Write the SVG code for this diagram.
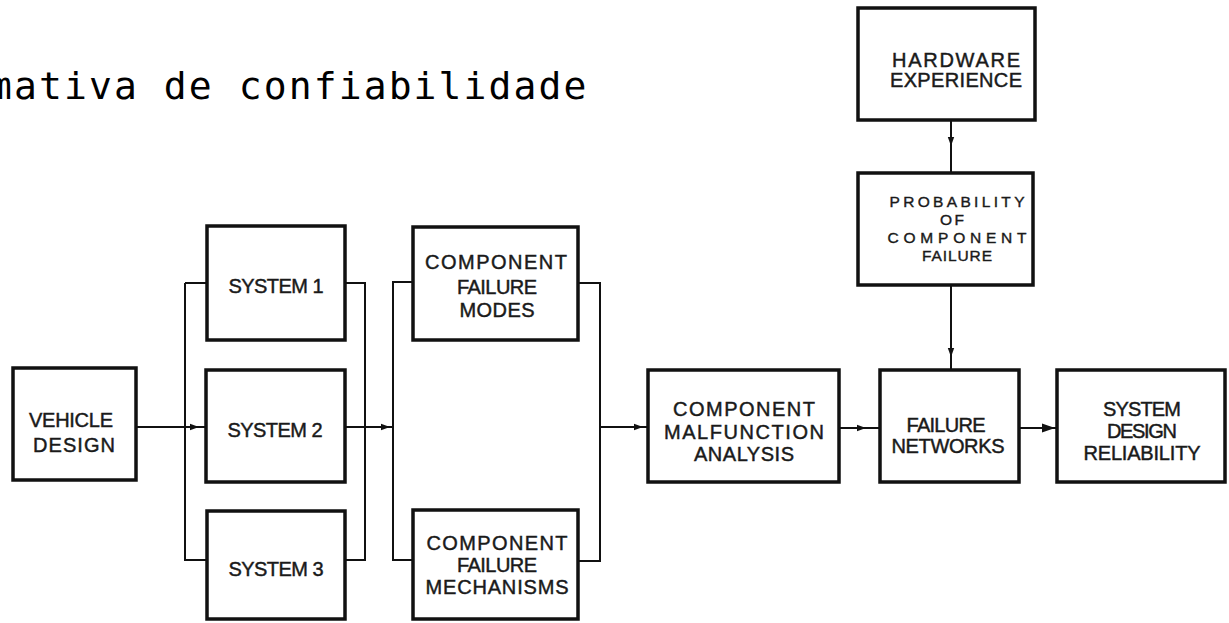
<svg xmlns="http://www.w3.org/2000/svg" width="1229" height="623" viewBox="0 0 1229 623">
<style>
.box{fill:#fff;stroke:#111;stroke-width:3.5}
.con{fill:none;stroke:#111;stroke-width:2}
.lbl{font-family:"Liberation Sans",Arial,sans-serif;font-size:20px;fill:#1a1a1a;stroke:#1a1a1a;stroke-width:0.45;text-anchor:middle}
.sm{font-size:15.5px;stroke-width:0.4}
.title{font-family:"DejaVu Sans Mono","Liberation Mono",monospace;font-size:38px;fill:#000;letter-spacing:2.1px}
</style>
<defs>
<marker id="ah" markerUnits="userSpaceOnUse" markerWidth="10" markerHeight="8" refX="9" refY="4" orient="auto">
<path d="M0,0.8 L9,4 L0,7.2 Z" fill="#111"/>
</marker>
<marker id="ahb" markerUnits="userSpaceOnUse" markerWidth="14" markerHeight="10" refX="13" refY="5" orient="auto">
<path d="M0,0.5 L13,5 L0,9.5 Z" fill="#111"/>
</marker>
</defs>
<rect width="1229" height="623" fill="#fff"/>
<text class="title" x="-11" y="99">mativa de confiabilidade</text>

<g id="connectors">
<path class="con" d="M185,283 H207 M185,283 V560 H207"/>
<path class="con" d="M137,427 L199,427 L207,427" marker-mid="url(#ah)"/>
<path class="con" d="M345,283 H365 V560 H345"/>
<path class="con" d="M345,427 L390,427 L393,427" marker-mid="url(#ah)"/>
<path class="con" d="M413,282 H393 V560 H413"/>
<path class="con" d="M578,283 H600 V561 H578"/>
<path class="con" d="M600,427 L643,427 L648,427" marker-mid="url(#ah)"/>
<path class="con" d="M839,428 L866,428 L880,428" marker-mid="url(#ah)"/>
<path class="con" d="M1019,428 L1055,428 L1057,428" marker-mid="url(#ahb)"/>
<path class="con" d="M951,120 L951,146 L951,173" marker-mid="url(#ah)"/>
<path class="con" d="M951,285 L951,357 L951,370" marker-mid="url(#ah)"/>
</g>

<g id="vehicle-design">
<rect class="box" x="13" y="368" width="123" height="112"/>
<text class="lbl" x="71" y="427" textLength="84">VEHICLE</text>
<text class="lbl" x="74" y="452" textLength="82">DESIGN</text>
</g>
<g id="system-1">
<rect class="box" x="207" y="226" width="138" height="114"/>
<text class="lbl" x="276" y="293" textLength="95">SYSTEM 1</text>
</g>
<g id="system-2">
<rect class="box" x="206" y="370" width="139" height="112"/>
<text class="lbl" x="275" y="437" textLength="95">SYSTEM 2</text>
</g>
<g id="system-3">
<rect class="box" x="207" y="511" width="138" height="108"/>
<text class="lbl" x="276" y="576" textLength="95">SYSTEM 3</text>
</g>
<g id="component-failure-modes">
<rect class="box" x="413" y="227" width="165" height="113"/>
<text class="lbl" x="496" y="269" textLength="142">COMPONENT</text>
<text class="lbl" x="497" y="294" textLength="80">FAILURE</text>
<text class="lbl" x="497" y="317" textLength="75">MODES</text>
</g>
<g id="component-failure-mechanisms">
<rect class="box" x="413" y="510" width="165" height="109"/>
<text class="lbl" x="497" y="550" textLength="141">COMPONENT</text>
<text class="lbl" x="497" y="572" textLength="80">FAILURE</text>
<text class="lbl" x="497" y="594" textLength="143">MECHANISMS</text>
</g>
<g id="component-malfunction-analysis">
<rect class="box" x="648" y="370" width="191" height="112"/>
<text class="lbl" x="744" y="416" textLength="142">COMPONENT</text>
<text class="lbl" x="744" y="439" textLength="160">MALFUNCTION</text>
<text class="lbl" x="744" y="461" textLength="100">ANALYSIS</text>
</g>
<g id="failure-networks">
<rect class="box" x="880" y="370" width="139" height="112"/>
<text class="lbl" x="946" y="432" textLength="79">FAILURE</text>
<text class="lbl" x="948" y="453" textLength="113">NETWORKS</text>
</g>
<g id="system-design-reliability">
<rect class="box" x="1057" y="370" width="168" height="112"/>
<text class="lbl" x="1142" y="416" textLength="78">SYSTEM</text>
<text class="lbl" x="1142" y="438" textLength="70">DESIGN</text>
<text class="lbl" x="1142" y="460" textLength="117">RELIABILITY</text>
</g>
<g id="hardware-experience">
<rect class="box" x="858" y="8" width="177" height="112"/>
<text class="lbl" x="956" y="67" textLength="128">HARDWARE</text>
<text class="lbl" x="956" y="87" textLength="132">EXPERIENCE</text>
</g>
<g id="probability-of-component-failure">
<rect class="box" x="858" y="173" width="175" height="112"/>
<text class="lbl sm" x="957" y="207" textLength="135">PROBABILITY</text>
<text class="lbl sm" x="952" y="225" textLength="24">OF</text>
<text class="lbl sm" x="957" y="243" textLength="139">COMPONENT</text>
<text class="lbl sm" x="957" y="261" textLength="70">FAILURE</text>
</g>
</svg>
